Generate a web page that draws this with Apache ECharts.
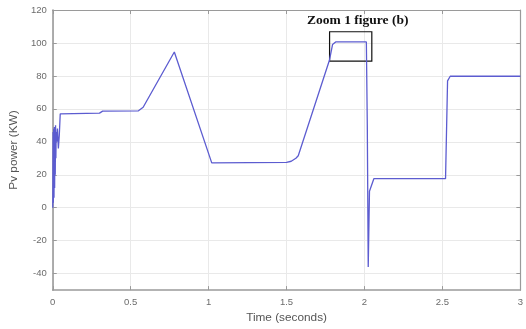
<!DOCTYPE html>
<html>
<head>
<meta charset="utf-8">
<script src="https://cdn.jsdelivr.net/npm/echarts@6/dist/echarts.min.js"></script>
<style>
  html, body { margin: 0; padding: 0; background: #fff; }
  #chart { width: 526px; height: 329px; }
</style>
</head>
<body>
<div id="chart"></div>
<script>
// PV power trace over time
const timeSec = [0, 0.002, 0.004, 0.006, 0.008, 0.010, 0.012, 0.014, 0.016, 0.018, 0.020, 0.022, 0.025, 0.030, 0.036, 0.042, 0.048,
  0.06, 0.30, 0.32, 0.55, 0.58, 0.78, 1.02, 1.50, 1.53, 1.56, 1.575, 1.775, 1.795, 1.815, 2.012, 2.018, 2.024, 2.032, 2.06,
  2.52, 2.533, 2.55, 3.0];
const pvPowerKW = [0, 46, 3, 48, 6, 49, 12, 47, 20, 50, 30, 46, 40, 48, 36, 44, 57,
  57.3, 57.4, 58.6, 58.8, 61, 94.5, 27.2, 27.5, 28.2, 30, 31.5, 89.5, 99, 100.6, 100.6, 50, -36, 10, 17.6,
  17.6, 77, 79.8, 79.8];

const yTicks = [-40, -20, 0, 20, 40, 60, 80, 100, 120];
const zoomBox = { t0: 1.776, t1: 2.047, p0: 106.8, p1: 89.0, text: 'Zoom 1 figure (b)' };

const seriesData = timeSec.map((t, i) => [t, pvPowerKW[i]]);

const axisGrey = '#9a9a9a';
const textGrey = '#6b6b6b';
const gridGrey = '#e9e9e9';

const chart = echarts.init(document.getElementById('chart'), null, { renderer: 'canvas' });
chart.setOption({
  animation: false,
  backgroundColor: '#ffffff',
  grid: { left: 49.5, right: 1.5, top: 10, bottom: 38, containLabel: false },
  xAxis: [{
    type: 'value', min: 0, max: 3, interval: 0.5,
    name: 'Time (seconds)', nameLocation: 'middle', nameGap: 21,
    nameTextStyle: { color: '#555', fontSize: 11.8, fontFamily: 'Liberation Sans' },
    axisLine: { show: true, onZero: false, lineStyle: { color: axisGrey, width: 1.6 } },
    axisTick: { show: true, inside: true, length: 4, lineStyle: { color: axisGrey } },
    axisLabel: { color: textGrey, fontSize: 9.5, fontFamily: 'Liberation Sans', margin: 7,
      formatter: v => String(v) },
    splitLine: { show: true, lineStyle: { color: gridGrey, width: 1 } }
  }, {
    type: 'value', min: 0, max: 3, interval: 0.5, position: 'top',
    axisLine: { show: true, onZero: false, lineStyle: { color: axisGrey, width: 1.2 } },
    axisTick: { show: true, inside: true, length: 4, lineStyle: { color: axisGrey } },
    axisLabel: { show: false }, splitLine: { show: false }
  }],
  yAxis: [{
    type: 'value', min: -50, max: 120,
    name: 'Pv power (KW)', nameLocation: 'middle', nameGap: 27, nameRotate: 90,
    nameTextStyle: { color: '#555', fontSize: 11.8, fontFamily: 'Liberation Sans' },
    axisLine: { show: true, onZero: false, lineStyle: { color: axisGrey, width: 1.6 } },
    axisTick: { show: true, inside: true, length: 4, customValues: yTicks, lineStyle: { color: axisGrey } },
    axisLabel: { color: textGrey, fontSize: 9.5, fontFamily: 'Liberation Sans', margin: 6, customValues: yTicks },
    splitLine: { show: true, lineStyle: { color: gridGrey, width: 1 } }
  }, {
    type: 'value', min: -50, max: 120, position: 'right',
    axisLine: { show: true, onZero: false, lineStyle: { color: axisGrey, width: 1.2 } },
    axisTick: { show: true, inside: true, length: 4, customValues: yTicks, lineStyle: { color: axisGrey } },
    axisLabel: { show: false }, splitLine: { show: false }
  }],
  series: [{
    type: 'line',
    data: seriesData,
    showSymbol: false,
    symbol: 'none',
    lineStyle: { color: '#5c5cd0', width: 1.3 },
    markArea: {
      silent: true,
      itemStyle: { color: 'rgba(0,0,0,0)', borderColor: '#111', borderWidth: 1.2 },
      label: {
        show: true, position: 'top', distance: 4, offset: [7, 0],
        color: '#111', fontFamily: 'Liberation Serif', fontWeight: 'bold', fontSize: 13.5
      },
      data: [[
        { name: zoomBox.text, coord: [zoomBox.t0, zoomBox.p0] },
        { coord: [zoomBox.t1, zoomBox.p1] }
      ]]
    }
  }]
});
</script>
</body>
</html>
